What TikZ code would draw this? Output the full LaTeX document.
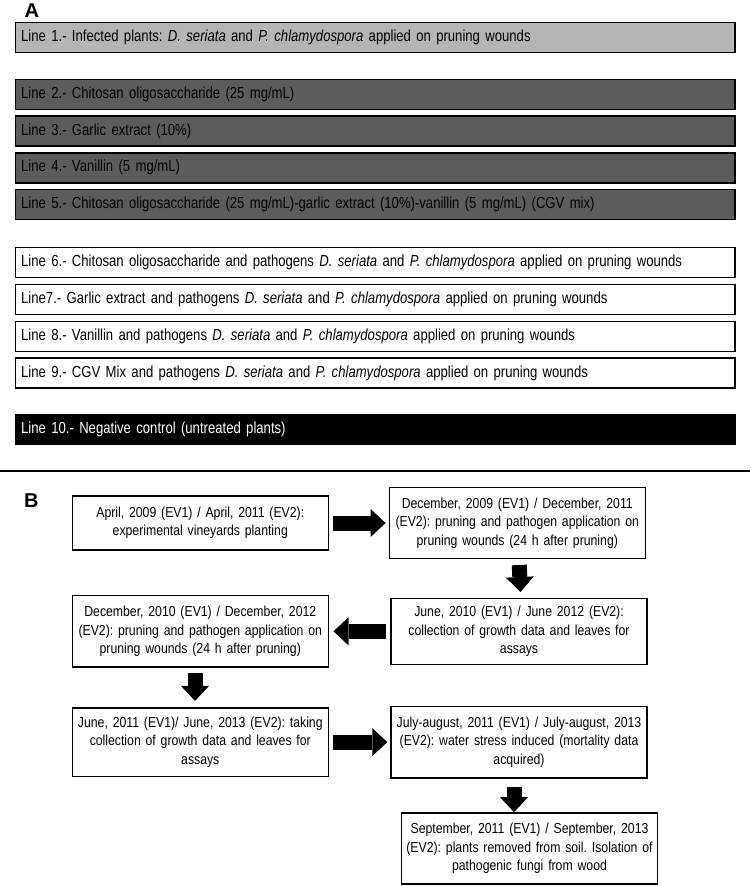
\documentclass[tikz,border=0pt]{standalone}
\usepackage{fontspec}
\setmainfont{Liberation Sans}[FakeStretch=0.845]
\newfontfamily\barfont{Liberation Sans}[FakeStretch=0.82]
\newfontfamily\panelfont{Liberation Sans}
\usetikzlibrary{arrows.meta}
\definecolor{infgray}{gray}{0.71}
\definecolor{treatgray}{gray}{0.36}
\frenchspacing

\begin{document}
\begin{tikzpicture}[x=1pt, y=-1pt,
    bar/.style={draw, line width=1.4pt, text width=708.3pt, inner xsep=5.5pt, minimum height=30pt, align=left, font=\barfont\fontsize{16}{18}\selectfont, text height=11.5pt, text depth=3.5pt},
    stage/.style={draw, line width=1.4pt, minimum width=256pt, text width=252pt, inner xsep=2pt, align=center, font=\fontsize{14.5}{18.3}\selectfont},
    fat/.style={line width=15pt, -{Triangle[length=15pt, width=28pt, line width=0pt]}, shorten <=4pt, shorten >=3pt},
    panel/.style={anchor=base west, inner sep=0pt, font=\panelfont\bfseries\fontsize{20}{20}\selectfont}]
  \useasboundingbox (0,0) rectangle (750,886);

  % A: the treatment lines
  \node[panel] (pa) at (24.5,17.3) {A};
  \node[bar, fill=infgray] (inf) at (375.35,37.7) {Line 1.- Infected plants: \textit{D. seriata} and \textit{P. chlamydospora} applied on pruning wounds};
  \node[bar, fill=treatgray, below of=inf, node distance=56.7pt] (cos) {Line 2.- Chitosan oligosaccharide (25 mg/mL)};
  \node[bar, fill=treatgray, below of=cos, node distance=36.7pt] (garlic) {Line 3.- Garlic extract (10\%)};
  \node[bar, fill=treatgray, below of=garlic, node distance=36.7pt] (van) {Line 4.- Vanillin (5 mg/mL)};
  \node[bar, fill=treatgray, below of=van, node distance=36.7pt] (cgv) {Line 5.- Chitosan oligosaccharide (25 mg/mL)-garlic extract (10\%)-vanillin (5 mg/mL) (CGV mix)};
  \node[bar, below of=cgv, node distance=58.1pt] (cospath) {Line 6.- Chitosan oligosaccharide and pathogens \textit{D. seriata} and \textit{P. chlamydospora} applied on pruning wounds};
  \node[bar, below of=cospath, node distance=36.8pt] (garpath) {Line7.- Garlic extract and pathogens \textit{D. seriata} and \textit{P. chlamydospora} applied on pruning wounds};
  \node[bar, below of=garpath, node distance=36.8pt] (vanpath) {Line 8.- Vanillin and pathogens \textit{D. seriata} and \textit{P. chlamydospora} applied on pruning wounds};
  \node[bar, below of=vanpath, node distance=36.8pt] (cgvpath) {Line 9.- CGV Mix and pathogens \textit{D. seriata} and \textit{P. chlamydospora} applied on pruning wounds};
  \node[bar, fill=black, text=white, below of=cgvpath, node distance=56.2pt] (neg) {Line 10.- Negative control (untreated plants)};

  \draw[line width=2.5pt] (0,471) -- (750,471);

  % B: the schedule
  \node[panel] (pb) at (24,507) {B};
  \node[stage, minimum height=54pt] (plant) at (200.3,523) {April, 2009 (EV1) / April, 2011 (EV2):\\ experimental vineyards planting};
  \node[stage, minimum height=70.6pt, right of=plant, node distance=317pt] (prune1) {December, 2009 (EV1) / December, 2011\\ (EV2): pruning and pathogen application on\\ pruning wounds (24 h after pruning)};
  \node[stage, minimum height=66pt, below of=prune1, node distance=108.3pt, xshift=1.7pt] (assay1) {June, 2010 (EV1) / June 2012 (EV2):\\ collection of growth data and leaves for\\ assays};
  \node[stage, minimum height=71.3pt, left of=assay1, node distance=318.7pt] (prune2) {December, 2010 (EV1) / December, 2012\\ (EV2): pruning and pathogen application on\\ pruning wounds (24 h after pruning)};
  \node[stage, minimum height=68.4pt, below of=prune2, node distance=110.8pt] (assay2) {June, 2011 (EV1)/ June, 2013 (EV2): taking\\ collection of growth data and leaves for\\ assays};
  \node[stage, minimum height=71.6pt, right of=assay2, node distance=318.7pt] (stress) {July-august, 2011 (EV1) / July-august, 2013\\ (EV2): water stress induced (mortality data\\ acquired)};
  \node[stage, minimum height=71pt, below of=stress, node distance=106.3pt, xshift=10.5pt] (isol) {September, 2011 (EV1) / September, 2013\\ (EV2): plants removed from soil. Isolation of\\ pathogenic fungi from wood};

  \draw[fat] (plant) -- (prune1);
  \draw[fat, shorten <=6pt, shorten >=5.6pt] ([xshift=1.7pt]prune1.south) -- ([xshift=1.7pt]assay1.north);
  \draw[fat, shorten >=4.5pt] (assay1) -- (prune2);
  \draw[fat, shorten <=5.7pt, shorten >=6.3pt] ([xshift=-5.3pt]prune2.south) -- ([xshift=-5.3pt]assay2.north);
  \draw[fat] (assay2) -- (stress);
  \draw[fat, shorten <=8.4pt, shorten >=0pt] ([xshift=-5pt]stress.south) -- ([xshift=-15.5pt]isol.north);
\end{tikzpicture}
\end{document}
